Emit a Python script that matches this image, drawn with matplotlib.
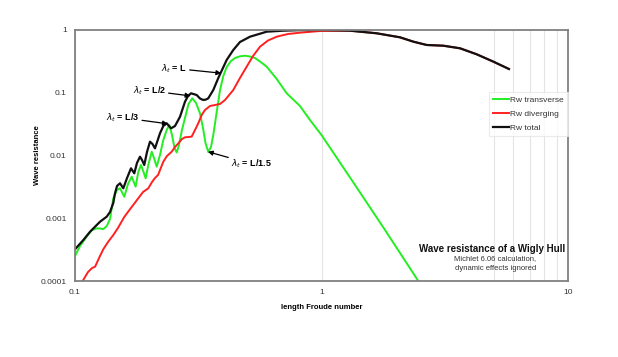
import matplotlib
matplotlib.use("Agg")
import matplotlib.pyplot as plt
from matplotlib.ticker import FixedLocator, NullFormatter

plt.rcParams['font.family'] = ['Liberation Sans', 'DejaVu Sans']

# values
froude_total = [0.100, 0.1081, 0.1151, 0.1263, 0.1345, 0.1387, 0.1430, 0.1453, 0.1481, 0.1523,
                0.1570, 0.1626, 0.1687, 0.1740, 0.1784, 0.1835, 0.1870, 0.1910, 0.1959, 0.2015,
                0.2063, 0.2111, 0.2212, 0.2282, 0.2355, 0.2452, 0.2545, 0.2667, 0.2794, 0.2873,
                0.2955, 0.3116, 0.3214, 0.3315, 0.340, 0.3473, 0.3639, 0.3814, 0.3948, 0.4124,
                0.4386, 0.4670, 0.5128, 0.5995, 0.698, 0.818, 1.0, 1.305, 1.675, 2.08,
                2.358, 2.672, 3.12, 3.647, 4.262, 4.98, 5.76]
rw_total = [3.2e-4, 4.5e-4, 6.1e-4, 8.8e-4, 1.06e-3, 1.26e-3, 1.75e-3, 2.50e-3, 3.27e-3, 3.61e-3,
            3.00e-3, 4.38e-3, 6.25e-3, 5.20e-3, 7.6e-3, 9.57e-3, 8.48e-3, 7.06e-3, 0.01137, 0.0166,
            0.01525, 0.0130, 0.0226, 0.0295, 0.0326, 0.0271, 0.0295, 0.0415, 0.0720, 0.0887,
            0.098, 0.0921, 0.0810, 0.0766, 0.0780, 0.0816, 0.1106, 0.172, 0.2305, 0.333,
            0.48, 0.644, 0.782, 0.94, 0.975, 0.995, 1.0, 0.975, 0.886, 0.765,
            0.652, 0.577, 0.562, 0.511, 0.41, 0.313, 0.239]

froude_div = [0.1048, 0.1074, 0.1129, 0.1173, 0.1206, 0.1263, 0.1302, 0.1361, 0.1430, 0.1494,
              0.158, 0.164, 0.1723, 0.1806, 0.1888, 0.1983, 0.2053, 0.2111, 0.2172, 0.2282,
              0.2361, 0.2468, 0.2545, 0.2625, 0.2716, 0.2794, 0.2887, 0.2974, 0.3068, 0.3163,
              0.3266, 0.3368, 0.3529, 0.370, 0.3876, 0.406, 0.4386, 0.4670, 0.497, 0.5275,
              0.563, 0.6067, 0.658, 0.731, 0.818, 0.986, 1.305, 1.675, 2.08, 2.358,
              2.672, 3.12, 3.647, 4.262, 4.98, 5.76]
rw_div = [7.2e-5, 1.0e-4, 1.39e-4, 1.61e-4, 1.69e-4, 2.50e-4, 3.2e-4, 4.18e-4, 5.4e-4, 7.0e-4,
          1.03e-3, 1.26e-3, 1.63e-3, 2.08e-3, 2.62e-3, 3.00e-3, 3.78e-3, 4.38e-3, 4.89e-3, 7.97e-3,
          9.82e-3, 0.0115, 0.01366, 0.0156, 0.0183, 0.0195, 0.0197, 0.0200, 0.0255, 0.0326,
          0.0442, 0.0531, 0.0615, 0.0638, 0.0662, 0.0766, 0.1106, 0.172, 0.26, 0.385,
          0.542, 0.68, 0.782, 0.864, 0.906, 0.964, 0.975, 0.886, 0.765, 0.652,
          0.577, 0.562, 0.511, 0.41, 0.313, 0.239]

froude_trans = [0.100, 0.1048, 0.1115, 0.1173, 0.1225, 0.1263, 0.1302, 0.1345, 0.1387, 0.1430,
                0.1481, 0.1523, 0.1585, 0.164, 0.1698, 0.1762, 0.1806, 0.1852, 0.1897, 0.1935,
                0.1983, 0.2048, 0.2092, 0.2145, 0.2212, 0.2282, 0.2355, 0.2413, 0.2475, 0.2533,
                0.2586, 0.2641, 0.2716, 0.2794, 0.2887, 0.2991, 0.3097, 0.3214, 0.3306, 0.3384,
                0.3473, 0.3562, 0.3639, 0.3757, 0.3876, 0.3996, 0.4124, 0.4295, 0.4457, 0.4670,
                0.4895, 0.5128, 0.5374, 0.563, 0.5995, 0.658, 0.7225, 0.818, 0.898, 1.0,
                1.326, 1.81, 2.47, 2.755]
rw_trans = [2.5e-4, 3.61e-4, 5.1e-4, 6.5e-4, 6.9e-4, 6.87e-4, 6.7e-4, 7.5e-4, 9.7e-4, 2.08e-3,
            2.82e-3, 3.00e-3, 2.20e-3, 3.51e-3, 4.59e-3, 3.19e-3, 5.46e-3, 7.06e-3, 5.46e-3, 4.33e-3,
            7.06e-3, 0.0115, 9.12e-3, 6.63e-3, 0.0102, 0.01766, 0.0255, 0.0306, 0.0212, 0.0132,
            0.01116, 0.0147, 0.0255, 0.0396, 0.0662, 0.0816, 0.0687, 0.0470, 0.0274, 0.0158,
            0.01137, 0.01366, 0.0212, 0.0493, 0.1106, 0.185, 0.257, 0.321, 0.358, 0.381,
            0.389, 0.378, 0.358, 0.315, 0.26, 0.1657, 0.098, 0.0615, 0.0368, 0.0212,
            4.07e-3, 6.5e-4, 1.0e-4, 5.4e-5]

labels = ["Rw transverse", "Rw diverging", "Rw total"]
colors = ["#22ee22", "#ff2020", "#111111"]

fig = plt.figure(figsize=(6.18, 3.57), dpi=100)
ax = fig.add_axes([75 / 618, 1 - 281 / 357, 493 / 618, 251 / 357])

ax.plot(froude_trans, rw_trans, color=colors[0], lw=1.4, label=labels[0])
ax.plot(froude_div, rw_div, color=colors[1], lw=1.4, label=labels[1])
ax.plot(froude_total, rw_total, color=colors[2], lw=1.6, label=labels[2])

ax.set_xscale("log")
ax.set_yscale("log")
ax.set_xlim(0.1, 10)
ax.set_ylim(1e-4, 1)

ax.set_xticks([0.1, 1, 10])
ax.set_xticklabels(["0.1", "1", "10"])
ax.set_yticks([1e-4, 1e-3, 1e-2, 1e-1, 1])
ax.set_yticklabels(["0.0001", "0.001", "0.01", "0.1", "1"])
ax.xaxis.set_minor_locator(FixedLocator([5, 6, 7, 8, 9]))
ax.xaxis.set_minor_formatter(NullFormatter())
ax.yaxis.set_minor_locator(FixedLocator([]))
ax.tick_params(axis="both", which="both", length=0, labelsize=6, colors="#333333")
ax.tick_params(axis="x", pad=6)
ax.tick_params(axis="y", pad=6)
ax.grid(True, axis="x", which="both", color="#e4e4e4", lw=0.8)
ax.set_axisbelow(True)
for s in ax.spines.values():
    s.set_color("#808080")
    s.set_linewidth(1.3)

ax.set_xlabel("length Froude number", fontsize=5.5, fontweight="bold")
ax.xaxis.set_label_coords(0.5, -0.090)
ax.set_ylabel("Wave resistance", fontsize=5.5, fontweight="bold")
ax.yaxis.set_label_coords(-0.069, 0.5)

leg = ax.legend(loc="upper right", bbox_to_anchor=(1.0, 0.753), fontsize=6,
                frameon=True, fancybox=False, handlelength=1.9, handletextpad=0.15,
                borderpad=0.5, labelspacing=0.72, borderaxespad=0)
leg.get_frame().set_edgecolor("#e6e6e6")
leg.get_frame().set_linewidth(0.8)
for t in leg.get_texts():
    t.set_color("#333333")

ax.text(0.995, 0.1275, "Wave resistance of a Wigly Hull", transform=ax.transAxes,
        ha="right", va="center", fontsize=7, fontweight="bold", color="#111111")
ax.text(0.853, 0.0876, "Michlet 6.06 calculation,", transform=ax.transAxes,
        ha="center", va="center", fontsize=5.5, color="#333333")
ax.text(0.853, 0.048, "dynamic effects ignored", transform=ax.transAxes,
        ha="center", va="center", fontsize=5.5, color="#333333")

arrow = dict(arrowstyle="-|>", color="black", lw=0.9, mutation_scale=7, shrinkA=0, shrinkB=0)
ax.annotate(r"$\lambda_t$ = L", xy=(0.392, 0.205), xytext=(0.252, 0.245),
            ha="center", va="center", fontsize=6.5, fontweight="bold", arrowprops=arrow)
ax.annotate(r"$\lambda_t$ = L/2", xy=(0.294, 0.089), xytext=(0.200, 0.108),
            ha="center", va="center", fontsize=6.5, fontweight="bold", arrowprops=arrow)
ax.annotate(r"$\lambda_t$ = L/3", xy=(0.238, 0.032), xytext=(0.156, 0.040),
            ha="center", va="center", fontsize=6.5, fontweight="bold", arrowprops=arrow)
ax.annotate(r"$\lambda_t$ = L/1.5", xy=(0.346, 0.0115), xytext=(0.520, 0.0073),
            ha="center", va="center", fontsize=6.5, fontweight="bold", arrowprops=arrow)

fig.savefig("out.png", dpi=100, facecolor="white")
